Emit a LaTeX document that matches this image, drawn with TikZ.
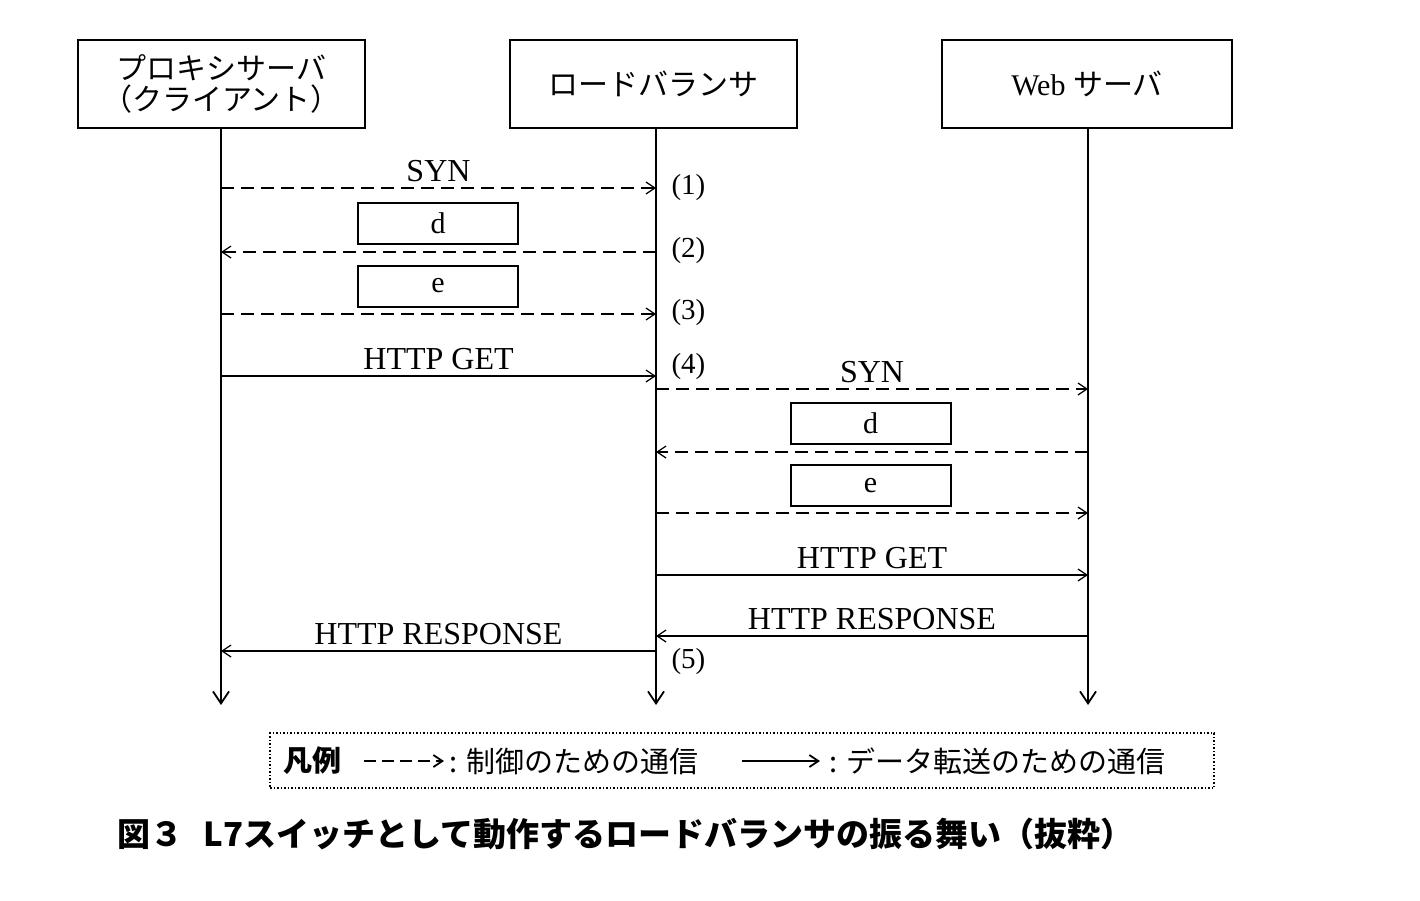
\documentclass[tikz,border=0pt]{standalone}
\usepackage{fontspec}
\setmainfont{Liberation Serif}
\newfontfamily\jp{Noto Sans CJK JP}
\usetikzlibrary{arrows.meta}
\begin{document}
\begin{tikzpicture}[x=1pt,y=-1pt,
  box/.style={draw,line width=1.5pt,minimum width=#1,minimum height=88pt,inner sep=0pt,font=\fontsize{30}{34}\selectfont},
  small/.style={draw,line width=2pt,minimum width=160pt,minimum height=41pt,font=\fontsize{30}{32}\selectfont},
  lab/.style={font=\fontsize{32}{34}\selectfont},
  num/.style={font=\fontsize{29}{32}\selectfont,anchor=west},
  msg/.style={line width=1.2pt,-{Straight Barb[length=9pt,width=12pt]}},
  ctl/.style={msg,dash pattern=on 13pt off 7pt},
  life/.style={line width=1.8pt,-{Straight Barb[length=12pt,width=16pt]}}]
\useasboundingbox (0,0) rectangle (1420,900);
\node[box=287pt] (p) at (221.5,84) {\jp\shortstack{プロキシサーバ\\（クライアント）}};
\node[box=287pt] (l) at (653.5,84) {\jp ロードバランサ};
\node[box=290pt] (w) at (1087,84) {Web {\jp サーバ}};
\coordinate (pe) at (221,705); \coordinate (le) at (656,705); \coordinate (we) at (1088,705);
\draw[life] (p.south -| pe) -- (pe);
\draw[life] (l.south -| le) -- (le);
\draw[life] (w.south -| we) -- (we);
% client side
\coordinate (a1) at (221,188); \coordinate (b1) at (656,188);
\draw[ctl] (a1) -- node[lab,above=2pt]{SYN} (b1);
\node[num] (n1) at (668,188) {(1)};
\node[small] (d1) at (438,223.5) {d};
\coordinate (a2) at (221,252); \coordinate (b2) at (656,252);
\draw[ctl] (b2) -- (a2);
\node[num] (n2) at (668,251) {(2)};
\node[small] (e1) at (438,286) {e};
\coordinate (a3) at (221,314); \coordinate (b3) at (656,314);
\draw[ctl] (a3) -- (b3);
\node[num] (n3) at (668,313) {(3)};
\coordinate (a4) at (221,376); \coordinate (b4) at (656,376);
\draw[msg] (a4) -- node[lab,above=2pt]{HTTP GET} (b4);
\node[num] (n4) at (668,367) {(4)};
% server side
\coordinate (c1) at (656,389); \coordinate (w1) at (1088,389);
\draw[ctl] (c1) -- node[lab,above=2pt]{SYN} (w1);
\node[small] (d2) at (870.5,423.5) {d};
\coordinate (c2) at (656,452); \coordinate (w2) at (1088,452);
\draw[ctl] (w2) -- (c2);
\node[small] (e2) at (870.5,485.5) {e};
\coordinate (c3) at (656,513); \coordinate (w3) at (1088,513);
\draw[ctl] (c3) -- (w3);
\coordinate (c4) at (656,575); \coordinate (w4) at (1088,575);
\draw[msg] (c4) -- node[lab,above=2pt]{HTTP GET} (w4);
\coordinate (c5) at (656,636); \coordinate (w5) at (1088,636);
\draw[msg] (w5) -- node[lab,above=2pt]{HTTP RESPONSE} (c5);
\coordinate (a6) at (221,651); \coordinate (b6) at (656,651);
\draw[msg] (b6) -- node[lab,above=2pt]{HTTP RESPONSE} (a6);
\node[num] (n5) at (668,662) {(5)};
% legend
\node[draw,dotted,line width=1.5pt,minimum width=944pt,minimum height=55pt] (leg) at (742,760.5) {};
\node[anchor=west,font=\jp\bfseries\fontsize{29}{32}\selectfont] (lg) at (280,761) {凡例};
\coordinate (la1) at (364,761); \coordinate (la2) at (444,761);
\draw[ctl,line width=1.8pt,dash pattern=on 12pt off 6pt] (la1) -- (la2);
\node[anchor=west,font=\jp\fontsize{29}{32}\selectfont] (lt1) at (446,761) {: 制御のための通信};
\coordinate (lb1) at (742,761); \coordinate (lb2) at (820,761);
\draw[msg,line width=1.8pt] (lb1) -- (lb2);
\node[anchor=west,font=\jp\fontsize{29}{32}\selectfont] (lt2) at (826,761) {: データ転送のための通信};
% caption
\node[anchor=west,font=\jp\bfseries\fontsize{33}{36}\selectfont] (cap) at (114,834) {図３\hspace{0.6em}L7スイッチとして動作するロードバランサの振る舞い（抜粋）};
\end{tikzpicture}
\end{document}
